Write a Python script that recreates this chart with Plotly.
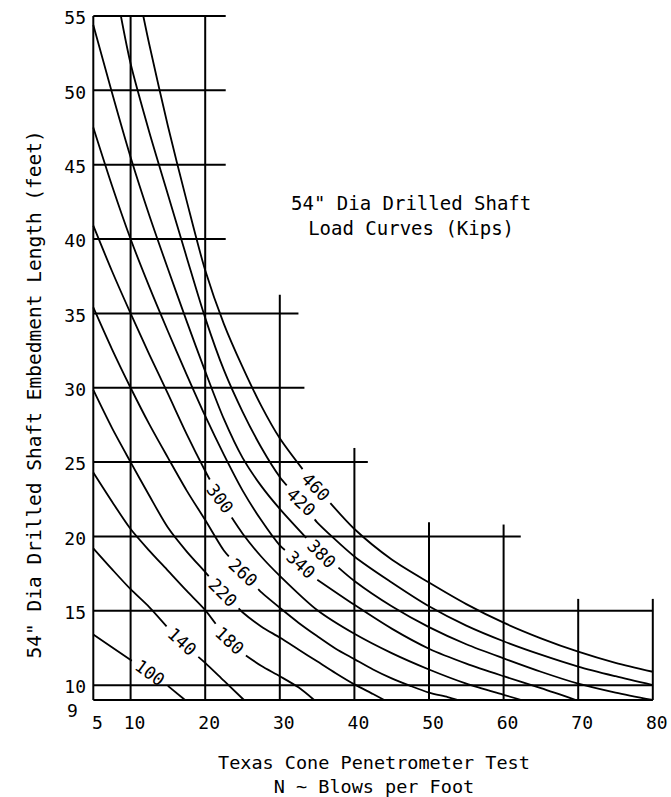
import numpy as np
import plotly.graph_objects as go

# ---------------- data ----------------
LOADS = [100, 140, 180, 220, 260, 300, 340, 380, 420, 460]

N_100 = [5, 7.5, 10, 12.5, 15, 17.3]
L_100 = [13.4, 12.55, 11.7, 10.85, 9.95, 9.0]
N_140 = [5, 7.5, 10, 12.5, 15, 17.5, 20, 22.5, 25.2]
L_140 = [19.2, 17.8, 16.45, 15.25, 13.85, 12.6, 11.5, 10.3, 9.0]
N_180 = [5, 7.5, 10, 12.5, 15, 17.5, 20, 22.5, 25, 27.5, 30, 32.5, 34.6]
L_180 = [24.3, 22.35, 20.5, 19.05, 17.7, 16.35, 15.05, 13.4, 12.15, 11.3, 10.6, 9.85, 9.0]
N_220 = [5, 7.5, 10, 12.5, 15, 17.5, 20, 22.5, 25, 27.5, 30, 32.5, 35, 37.5, 40, 42.5, 44]
L_220 = [29.85, 27.3, 25.0, 22.75, 20.6, 19.0, 17.6, 16.15, 14.9, 13.95, 13.2, 12.4, 11.6, 10.8, 10.05, 9.4, 9.0]
N_260 = [5, 7.5, 10, 12.5, 15, 17.5, 20, 22.5, 25, 27.5, 30, 32.5, 35, 37.5, 40, 42.5, 45, 47.5, 50, 52.5, 53.9]
L_260 = [35.4, 32.6, 30.0, 27.55, 25.3, 23.1, 21.1, 19.05, 17.6, 16.25, 15.2, 14.2, 13.3, 12.45, 11.75, 11.05, 10.45, 9.95, 9.5, 9.2, 9.0]
N_300 = [5, 7.5, 10, 12.5, 15, 17.5, 20, 22.5, 25, 27.5, 30, 35, 40, 45, 50, 55, 60, 62.4]
L_300 = [40.9, 37.85, 35.0, 32.25, 29.6, 26.9, 24.4, 22.05, 20.2, 18.65, 17.35, 15.05, 13.45, 12.15, 11.05, 10.1, 9.35, 9.0]
N_340 = [5, 7.5, 10, 12.5, 15, 17.5, 20, 22.5, 25, 27.5, 30, 35, 40, 45, 50, 55, 60, 65, 69.7]
L_340 = [47.5, 43.6, 40.0, 36.8, 33.8, 30.9, 28.1, 25.5, 23.1, 21.1, 19.4, 17.1, 15.4, 13.8, 12.45, 11.45, 10.6, 9.8, 9.0]
N_380 = [5, 7.5, 10, 12.5, 15, 17.5, 20, 22.5, 25, 27.5, 30, 35, 40, 45, 50, 55, 60, 65, 70, 75, 80]
L_380 = [54.4, 49.85, 45.5, 41.6, 38.0, 34.5, 31.1, 27.9, 25.3, 23.4, 21.85, 19.1, 17.0, 15.3, 13.9, 12.75, 11.8, 10.9, 10.1, 9.5, 9.0]
N_420 = [8.7, 10, 12.5, 15, 17.5, 20, 22.5, 25, 27.5, 30, 35, 40, 45, 50, 55, 60, 65, 70, 75, 80]
L_420 = [55.0, 51.8, 47.2, 43.0, 38.8, 34.7, 31.2, 28.4, 26.0, 24.0, 20.95, 18.65, 16.9, 15.3, 14.0, 12.95, 12.05, 11.25, 10.6, 10.0]
N_460 = [11.7, 12.5, 15, 17.5, 20, 22.5, 25, 27.5, 30, 35, 40, 45, 50, 55, 60, 65, 70, 75, 80]
L_460 = [55.0, 53.1, 47.6, 42.6, 37.9, 34.3, 31.4, 28.8, 26.6, 23.2, 20.5, 18.45, 16.9, 15.45, 14.2, 13.15, 12.25, 11.5, 10.9]

CURVES_N = [N_100, N_140, N_180, N_220, N_260, N_300, N_340, N_380, N_420, N_460]
CURVES_L = [L_100, L_140, L_180, L_220, L_260, L_300, L_340, L_380, L_420, L_460]

# where each curve label sits (N along the curve) and its text angle
LABEL_N = [12.6, 16.9, 23.3, 22.4, 25.1, 22.0, 32.85, 35.6, 32.8, 34.8]
LABEL_ANGLE = [36, 43, 43, 45, 43, 53, 43, 45, 43, 46]

# staircase grid
VLINES_X = [5, 10, 20, 30, 40, 50, 60, 70, 80]
VLINES_TOP = [55, 55, 55, 36.25, 25.95, 20.95, 20.8, 15.8, 15.8]
HLINES_Y = [9, 10, 15, 20, 25, 30, 35, 40, 45, 50, 55]
HLINES_END = [80, 80, 80, 62.3, 41.8, 33.3, 32.5, 22.75, 22.75, 22.75, 22.75]

X_TICKS = [5, 10, 20, 30, 40, 50, 60, 70, 80]
Y_TICKS = [10, 15, 20, 25, 30, 35, 40, 45, 50, 55]

# ---------------- layout geometry ----------------
W, H = 671, 797
ML, MR, MT, MB = 91, 16, 14, 95
X5_PX, X80_PX = 93.3, 652.8
Y9_PX, Y55_PX = 700.0, 16.0
PPX = (X80_PX - X5_PX) / 75.0
PPY = (Y9_PX - Y55_PX) / 46.0
XR = [5 - (X5_PX - ML) / PPX, 5 + (W - MR - X5_PX) / PPX]
YR = [9 - (H - MB - Y9_PX) / PPY, 55 + (Y55_PX - MT) / PPY]
PW, PH = W - ML - MR, H - MT - MB

FONT = "DejaVu Sans Mono"


def pxx(px):
    return (px - ML) / PW


def pxy(py):
    return 1 - (py - MT) / PH


def split_at_label(n, l, nc, half_px):
    n = np.asarray(n, float)
    l = np.asarray(l, float)
    fine = np.linspace(n[0], n[-1], 3000)
    lf = np.interp(fine, n, l)
    seg = np.hypot(np.diff(fine) * PPX, np.diff(lf) * PPY)
    s = np.concatenate([[0.0], np.cumsum(seg)])
    sc = np.interp(nc, fine, s)
    n0 = float(np.interp(sc - half_px, s, fine))
    n1 = float(np.interp(sc + half_px, s, fine))
    l0 = float(np.interp(n0, n, l))
    l1 = float(np.interp(n1, n, l))
    left = n < n0 - 0.3
    right = n > n1 + 0.3
    xs = list(n[left]) + [n0, None, n1] + list(n[right])
    ys = list(l[left]) + [l0, None, l1] + list(l[right])
    return xs, ys, float(np.interp(nc, n, l))


fig = go.Figure()
annotations = []

for load, n, l, nc, ang in zip(LOADS, CURVES_N, CURVES_L, LABEL_N, LABEL_ANGLE):
    xs, ys, lc = split_at_label(n, l, nc, 22)
    fig.add_trace(go.Scatter(
        x=xs, y=ys, mode="lines", connectgaps=False,
        line=dict(color="black", width=1.8, shape="spline", smoothing=0.8),
        hoverinfo="skip", showlegend=False))
    annotations.append(dict(
        x=nc, y=lc, xref="x", yref="y", text=str(load), showarrow=False,
        textangle=ang, xanchor="center", yanchor="middle",
        font=dict(family=FONT, size=17.5, color="black")))

shapes = []
for xv, top in zip(VLINES_X, VLINES_TOP):
    shapes.append(dict(type="line", xref="x", yref="y", x0=xv, x1=xv, y0=9, y1=top,
                       line=dict(color="black", width=2)))
for yv, end in zip(HLINES_Y, HLINES_END):
    shapes.append(dict(type="line", xref="x", yref="y", x0=5, x1=end, y0=yv, y1=yv,
                       line=dict(color="black", width=2)))

# extra "9" label at the bottom-left corner
annotations.append(dict(x=pxx(72.8), y=pxy(710), xref="paper", yref="paper", text="9",
                        showarrow=False, xanchor="center", yanchor="middle",
                        font=dict(family=FONT, size=18, color="black")))

# chart title (two lines, one text block)
annotations.append(dict(x=pxx(411.3), y=pxy(215.5), xref="paper", yref="paper",
                        text='54" Dia Drilled Shaft<br>Load Curves (Kips)',
                        showarrow=False, align="center",
                        xanchor="center", yanchor="middle",
                        font=dict(family=FONT, size=19, color="black")))
# x-axis title (two lines, one text block)
annotations.append(dict(x=pxx(373.5), y=pxy(774.5), xref="paper", yref="paper",
                        text="Texas Cone Penetrometer Test<br>N ~ Blows per Foot",
                        showarrow=False, align="center",
                        xanchor="center", yanchor="middle",
                        font=dict(family=FONT, size=18.5, color="black")))
# y-axis title
annotations.append(dict(x=pxx(33.5), y=pxy(395), xref="paper", yref="paper",
                        text='54" Dia Drilled Shaft Embedment Length (feet)',
                        showarrow=False, textangle=-90,
                        xanchor="center", yanchor="middle",
                        font=dict(family=FONT, size=19.5, color="black")))

fig.update_layout(
    width=W, height=H,
    margin=dict(l=ML, r=MR, t=MT, b=MB, pad=0),
    paper_bgcolor="white", plot_bgcolor="white",
    shapes=shapes, annotations=annotations,
    showlegend=False,
    xaxis=dict(range=XR, tickvals=X_TICKS, ticktext=[str(v) for v in X_TICKS],
               showgrid=False, zeroline=False, showline=False, ticks="",
               tickfont=dict(family=FONT, size=18, color="black"),
               ticklabelstandoff=8, ticklabelshift=4, fixedrange=True,
               automargin=False),
    yaxis=dict(range=YR, tickvals=Y_TICKS, ticktext=[str(v) for v in Y_TICKS],
               showgrid=False, zeroline=False, showline=False, ticks="",
               tickfont=dict(family=FONT, size=18, color="black"),
               ticklabelstandoff=4, ticklabelshift=2, fixedrange=True,
               automargin=False),
)

fig.write_html("out.html")
